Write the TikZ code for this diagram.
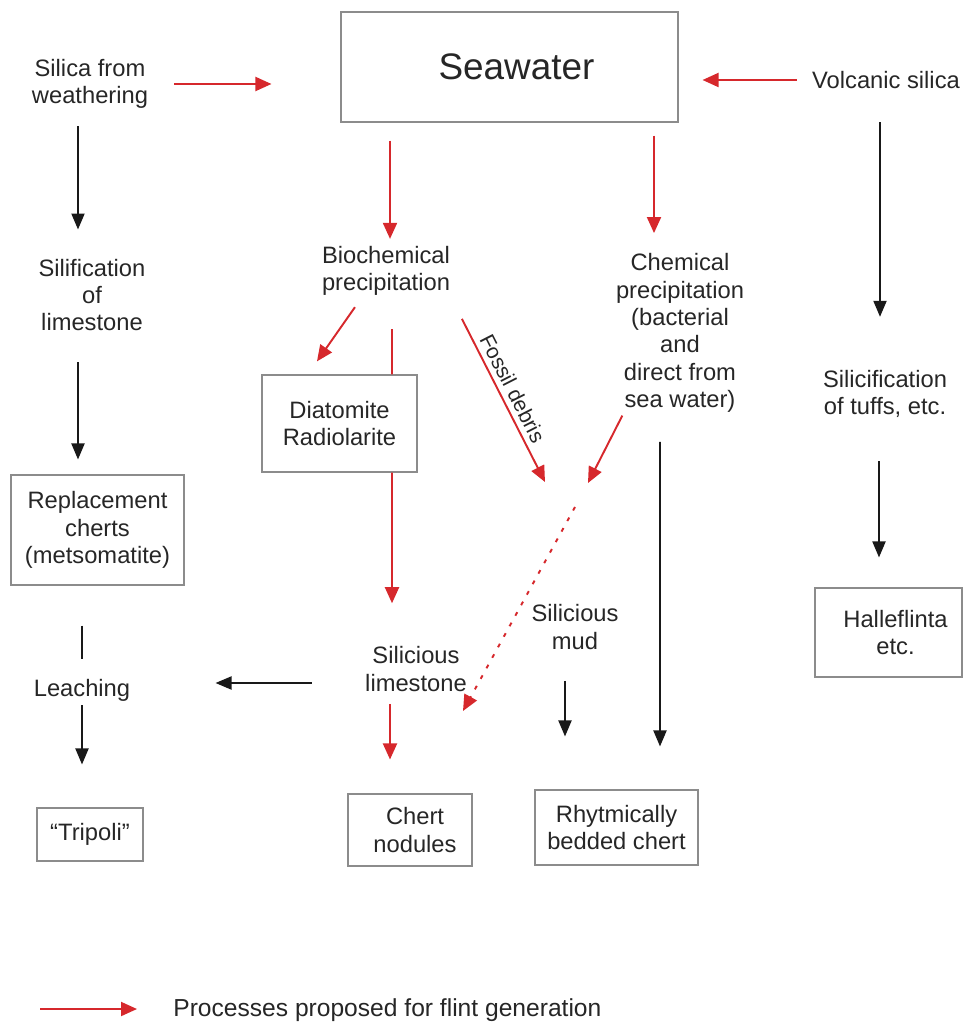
\documentclass[tikz,border=0pt]{standalone}
\usepackage{fontspec}
\setmainfont{Liberation Sans}
\usetikzlibrary{arrows.meta,calc}
\definecolor{procred}{RGB}{214,40,44}

\begin{document}
\begin{tikzpicture}[x=0.2mm,y=-0.2mm,
 lbl/.style={align=center,inner sep=0pt,text=black!85,font=\fontsize{13.5}{15.6}\selectfont},
 boxed/.style={lbl,draw=black!45,line width=0.6pt},
 redarr/.style={draw=procred,line width=1.1pt,-{Triangle[length=3.2mm,width=2.8mm]}},
 blkarr/.style={draw=black!90,line width=1.1pt,-{Triangle[length=3.2mm,width=2.6mm]}},
 dotline/.style={dash pattern=on 0.8mm off 1.6mm}]
 \useasboundingbox (0,0) rectangle (966,1025);

 % boxes
 \node[boxed,minimum width=67.4mm,minimum height=22mm,font=\fontsize{21}{24}\selectfont] (sea) at (509.5,67) {\hspace*{2.8mm}Seawater};
 \node[boxed,minimum width=34.6mm,minimum height=22mm] (repl) at (97.5,530) {Replacement\\cherts\\(metsomatite)};
 \node[boxed,minimum width=31mm,minimum height=19.4mm] (diat) at (339.5,423.5) {Diatomite\\Radiolarite};
 \node[boxed,minimum width=29.4mm,minimum height=17.8mm] (halle) at (888.5,632.5) {\hspace*{2.8mm}Halleflinta\\\hspace*{2.8mm}etc.};
 \node[boxed,minimum width=21.2mm,minimum height=10.6mm] (trip) at (90,834.5) {“Tripoli”};
 \node[boxed,minimum width=24.8mm,minimum height=14.4mm] (chert) at (410,830) {\hspace*{2mm}Chert\\\hspace*{2mm}nodules};
 \node[boxed,minimum width=32.6mm,minimum height=15mm] (rhyt) at (616.5,827.5) {Rhytmically\\bedded chert};

 % labels
 \node[lbl] (weath) at (90,84) {Silica from\\weathering};
 \node[lbl] (volc) at (886,80) {Volcanic silica};
 \node[lbl] (bio) at (386,271) {Biochemical\\precipitation};
 \node[lbl] (chem) at (680,333) {Chemical\\precipitation\\(bacterial\\and\\direct from\\sea water)};
 \node[lbl] (silim) at (92,295) {Silification\\of\\limestone};
 \node[lbl] (tuffs) at (885,394) {Silicification\\of tuffs, etc.};
 \node[lbl] (leach) at (82,690) {Leaching};
 \node[lbl] (slime) at (416,669) {Silicious\\limestone};
 \node[lbl] (smud) at (575,627) {Silicious\\mud};
 \node[lbl,anchor=west,font=\fontsize{14}{16}\selectfont] (legend) at (173,1010) {Processes proposed for flint generation};

 % free ends
 \coordinate (fosend) at (545,482);
 \coordinate (chemend) at (588,483);
 \coordinate (dotst) at (575,507);
 \coordinate (dotend) at (463,711);
 \coordinate (lgst) at (40,1009);

 % connectors
 \draw[redarr,shorten <=5.2mm,shorten >=13.8mm] (weath.east) -- (weath.east -| sea.west);
 \draw[redarr,shorten <=3mm,shorten >=4.8mm] (volc.west) -- (volc.west -| sea.east);
 \draw[redarr,shorten <=3.6mm,shorten >=1.4mm] ($(sea.south -| bio.north)+(4,0)$) -- ($(bio.north)+(4,0)$);
 \draw[redarr,shorten <=2.6mm,shorten >=4mm] ($(sea.south -| chem.north)+(-26,0)$) -- ($(chem.north)+(-26,0)$);
 \draw[blkarr,shorten <=6.6mm,shorten >=10.6mm] ($(volc.south)+(-6,0)$) -- ($(tuffs.north)+(-5,0)$);
 \draw[blkarr,shorten <=8.6mm,shorten >=6mm] ($(tuffs.south)+(-6,0)$) -- ($(halle.north)+(-9.5,0)$);
 \draw[blkarr,shorten <=3.4mm,shorten >=5.8mm] ($(weath.south)+(-12,0)$) -- ($(silim.north)+(-14,0)$);
 \draw[blkarr,shorten <=6.2mm,shorten >=3mm] ($(silim.south)+(-14,0)$) -- ($(repl.north)+(-19.5,0)$);
 \draw[draw=black!90,line width=1.1pt,shorten <=8mm,shorten >=4mm] (leach.north |- repl.south) -- (leach.north);
 \draw[blkarr,shorten <=0.8mm,shorten >=8.6mm] (leach.south) -- (leach.south |- trip.north);
 \draw[blkarr,shorten <=10.6mm,shorten >=17mm] ($(slime.west)+(0,14)$) -- ($(slime.west -| leach.east)+(0,14)$);
 \draw[redarr,shorten <=2.7mm,shorten >=3.2mm] ($(bio.south)+(-23.3,0)$) -- ($(diat.north)+(-31.7,0)$);
 \draw[draw=procred,line width=1.1pt,shorten <=6.6mm] ($(bio.south)+(6,0)$) -- ($(diat.north)+(52.5,0)$);
 \draw[redarr,shorten >=8.6mm] ($(diat.south)+(52.5,0)$) -- ($(slime.north)+(-24,0)$);
 \draw[redarr,shorten <=5.1mm] (bio.south east) -- node[sloped,above=1mm,pos=0.53,inner sep=0pt,text=black!85,font=\fontsize{12}{14}\selectfont] (fossil) {Fossil debris} (fosend);
 \draw[redarr,shorten <=0.6mm] ($(chem.south west)+(8,0)$) -- (chemend);
 \draw[redarr,dotline] (dotst) -- (dotend);
 \draw[blkarr,shorten <=5.8mm,shorten >=8.6mm] ($(chem.south)+(-20,0)$) -- ($(rhyt.north)+(43.5,0)$);
 \draw[blkarr,shorten <=6.2mm,shorten >=10.6mm] ($(smud.south)+(-10,0)$) -- ($(rhyt.north)+(-51.5,0)$);
 \draw[redarr,shorten <=2.4mm,shorten >=6.8mm] ($(slime.south)+(-26,0)$) -- ($(chert.north)+(-20,0)$);
 \draw[redarr,shorten >=7.2mm] (lgst) -- (lgst -| legend.west);
\end{tikzpicture}
\end{document}
